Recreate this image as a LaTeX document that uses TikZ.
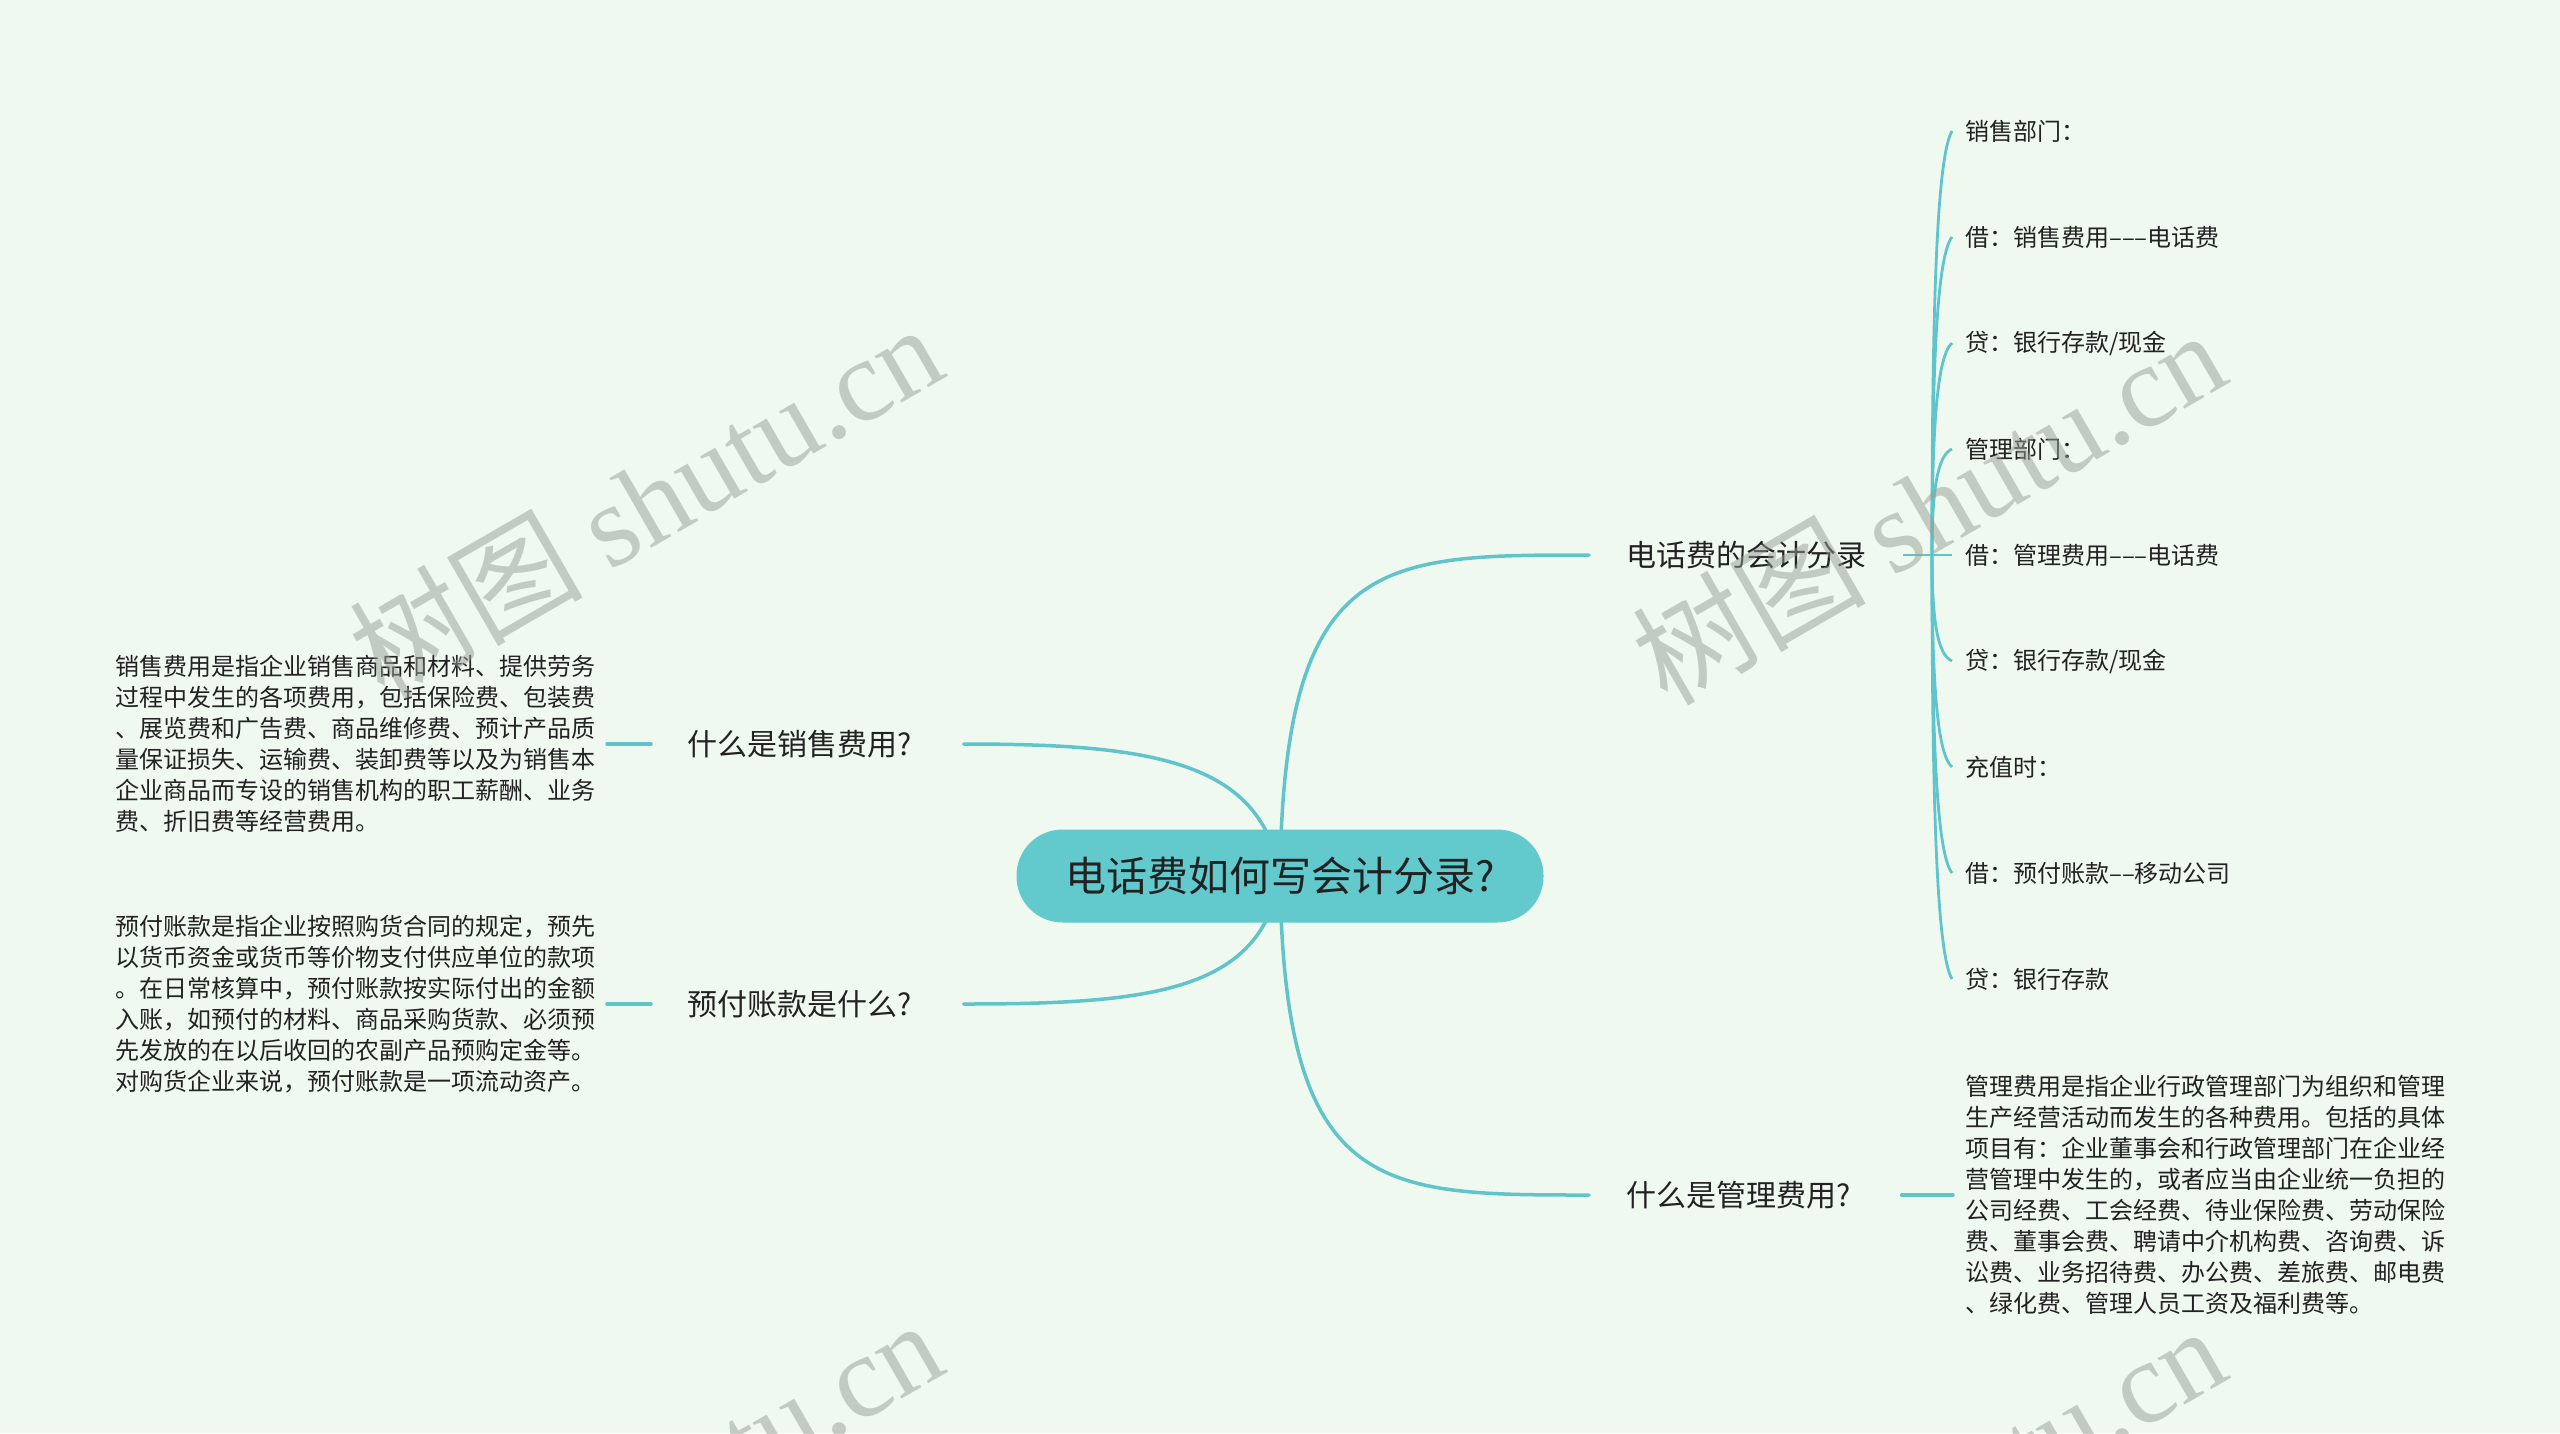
\documentclass[tikz,border=0pt]{standalone}
\usepackage{fontspec}
\setmainfont{Noto Sans CJK SC}
\newfontfamily\wmserif{Liberation Serif}
\usetikzlibrary{calc}
\pgfdeclarelayer{bgl}
\pgfdeclarelayer{lines}
\pgfdeclarelayer{wm}
\pgfsetlayers{bgl,lines,main,wm}
\definecolor{bgc}{RGB}{240,249,240}
\definecolor{linec}{RGB}{96,196,202}
\definecolor{rootc}{RGB}{98,201,205}
\definecolor{txtc}{RGB}{34,34,34}
\definecolor{wmc}{RGB}{150,158,150}
\tikzset{
  conn/.style={draw=linec, line width=3.5pt, line cap=round},
  twig/.style={draw=linec, line width=2.8pt},
  rootbox/.style={fill=rootc, rounded corners=46pt, minimum width=527pt, minimum height=93pt, inner sep=0pt, text=txtc, font=\fontsize{41}{48}\selectfont},
  branch/.style={anchor=west, inner xsep=37pt, inner ysep=0pt, text=txtc, font=\fontsize{30}{36}\selectfont},
  leaf/.style={anchor=west, inner xsep=13pt, inner ysep=0pt, text=txtc, font=\fontsize{24}{31}\selectfont},
  desc/.style={align=left, inner ysep=0pt, text=txtc, font=\fontsize{24}{31}\selectfont},
  wmark/.style={text=wmc, opacity=0.5, rotate=30, inner sep=0pt, font=\fontsize{117}{125}\selectfont}
}
\begin{document}
\begin{tikzpicture}[x=1pt,y=-1pt]
\useasboundingbox (0,0) rectangle (2560,1433);
\begin{pgfonlayer}{bgl}
\fill[bgc] (0,0) rectangle (2560,1433);
\end{pgfonlayer}

% root
\node[rootbox] (root) at (1280,876) {电话费如何写会计分录?};

% branches
\node[branch] (b1) at (1589,555) {电话费的会计分录};
\node[branch] (b2) at (1589,1195) {什么是管理费用?};
\node[branch, inner xsep=36pt] (b3) at (651,744) {什么是销售费用?};
\node[branch, inner xsep=36pt] (b4) at (651,1004) {预付账款是什么?};

% leaves of b1
\node[leaf] (k1) at (1952,131) {销售部门：};
\node[leaf] (k2) at (1952,237) {借：销售费用–––电话费};
\node[leaf] (k3) at (1952,343) {贷：银行存款/现金};
\node[leaf] (k4) at (1952,449) {管理部门：};
\node[leaf] (k5) at (1952,555) {借：管理费用–––电话费};
\node[leaf] (k6) at (1952,661) {贷：银行存款/现金};
\node[leaf] (k7) at (1952,767) {充值时：};
\node[leaf] (k8) at (1952,873) {借：预付账款––移动公司};
\node[leaf] (k9) at (1952,979) {贷：银行存款};

% descriptions
\node[desc, anchor=east, inner xsep=11pt] (d1) at (607,744) {销售费用是指企业销售商品和材料、提供劳务\\过程中发生的各项费用，包括保险费、包装费\\、展览费和广告费、商品维修费、预计产品质\\量保证损失、运输费、装卸费等以及为销售本\\企业商品而专设的销售机构的职工薪酬、业务\\费、折旧费等经营费用。};
\node[desc, anchor=east, inner xsep=11pt] (d2) at (607,1004) {预付账款是指企业按照购货合同的规定，预先\\以货币资金或货币等价物支付供应单位的款项\\。在日常核算中，预付账款按实际付出的金额\\入账，如预付的材料、商品采购货款、必须预\\先发放的在以后收回的农副产品预购定金等。\\对购货企业来说，预付账款是一项流动资产。};
\node[desc, anchor=west, inner xsep=12pt] (d3) at (1953,1195) {管理费用是指企业行政管理部门为组织和管理\\生产经营活动而发生的各种费用。包括的具体\\项目有：企业董事会和行政管理部门在企业经\\营管理中发生的，或者应当由企业统一负担的\\公司经费、工会经费、待业保险费、劳动保险\\费、董事会费、聘请中介机构费、咨询费、诉\\讼费、业务招待费、办公费、差旅费、邮电费\\、绿化费、管理人员工资及福利费等。};

\begin{pgfonlayer}{lines}
% root connectors
\draw[conn] (root.center) .. controls (1284,555) and (1380,555) .. (b1.west);
\draw[conn] (root.center) .. controls (1284,1195) and (1380,1195) .. (b2.west);
\draw[conn] (root.center) .. controls (1262,760) and (1150,744) .. ([xshift=16pt]b3.east);
\draw[conn] (root.center) .. controls (1262,992) and (1150,1004) .. ([xshift=16pt]b4.east);
% short stubs
\draw[conn] (d1.east) -- (b3.west);
\draw[conn] (d2.east) -- (b4.west);
\draw[conn] ([xshift=14pt]b2.east) -- (d3.west);
% spine
\coordinate (sp) at ($(k5.west)+(-20,0)$);
\draw[twig] (b1.east) -- (k5.west);
\foreach \i/\yy in {1/131,2/237,3/343,4/449,6/661,7/767,8/873,9/979}{
  \draw[twig] (sp) .. controls (1932,{555+0.6*(\yy-555)}) and (1937,{\yy-0.06*(\yy-555)}) .. (k\i.west);
}
\end{pgfonlayer}

% watermarks
\begin{pgfonlayer}{wm}
\begin{scope}
\clip (0,0) rectangle (2560,1433);
\node[wmark] (w1) at (645,500) {树图 {\wmserif shutu.cn}};
\node[wmark] (w2) at (1928,506) {树图 {\wmserif shutu.cn}};
\node[wmark] (w3) at (645,1496) {树图 {\wmserif shutu.cn}};
\node[wmark] (w4) at (1928,1502) {树图 {\wmserif shutu.cn}};
\end{scope}
\end{pgfonlayer}
\end{tikzpicture}
\end{document}
